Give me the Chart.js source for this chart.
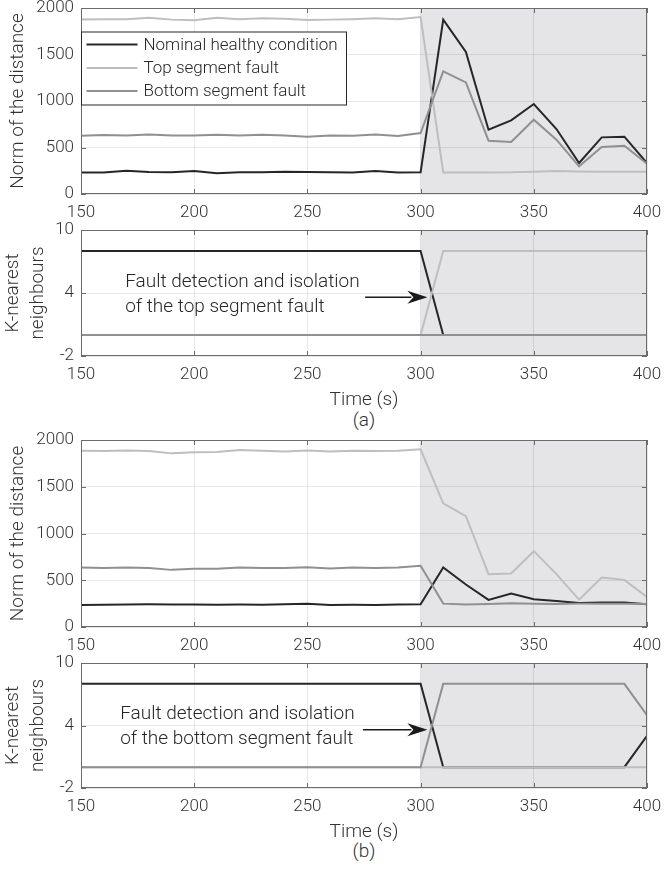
<!DOCTYPE html>
<html>
<head>
<meta charset="utf-8">
<script src="https://cdn.jsdelivr.net/npm/chart.js@4.4.1/dist/chart.umd.min.js"></script>
<style>
html,body{margin:0;padding:0;background:#fff;}
body{position:relative;width:664px;height:872px;overflow:hidden;}
canvas{position:absolute;left:0;}
.cap{position:absolute;left:0;width:728px;text-align:center;font-family:Roboto,"DejaVu Sans",sans-serif;font-weight:300;font-size:19px;color:#333;line-height:24px;}
</style>
</head>
<body>
<div class="cap" style="top:408px;">(a)</div>
<div class="cap" style="top:839px;">(b)</div>
<script>
// ---------- data ----------
const timeS = [150,160,170,180,190,200,210,220,230,240,250,260,270,280,290,300,310,320,330,340,350,360,370,380,390,400];
const xTicks = [150,200,250,300,350,400];
const normTicks = [0,500,1000,1500,2000];
const knnTicks = [-2,4,10];
const seriesNames = ['Nominal healthy condition','Top segment fault','Bottom segment fault'];
const faultStart = 300;

// (a) top segment fault – norm of the distance
const normNominalA = [232,230,250,236,233,246,222,235,233,238,236,233,232,246,232,233,1874,1527,691,792,968,699,333,609,616,333];
const normTopA     = [1875,1880,1878,1895,1875,1868,1895,1880,1890,1885,1872,1875,1880,1890,1878,1903,232,232,232,233,240,246,242,240,238,240];
const normBottomA  = [627,635,630,640,628,628,636,630,636,630,616,628,627,640,625,656,1318,1200,573,559,799,584,297,505,519,326];
// (a) k-nearest neighbours
const knnNominalA = [8,8,8,8,8,8,8,8,8,8,8,8,8,8,8,8,0,0,0,0,0,0,0,0,0,0];
const knnTopA     = [0,0,0,0,0,0,0,0,0,0,0,0,0,0,0,0,8,8,8,8,8,8,8,8,8,8];
const knnBottomA  = [0,0,0,0,0,0,0,0,0,0,0,0,0,0,0,0,0,0,0,0,0,0,0,0,0,0];

// (b) bottom segment fault – norm of the distance
const normNominalB = [236,238,240,242,240,240,238,240,238,242,248,236,238,236,240,243,636,454,290,358,297,279,257,261,261,243];
const normTopB     = [1885,1882,1888,1882,1857,1870,1872,1892,1885,1878,1888,1878,1885,1882,1885,1900,1322,1186,565,572,811,565,293,529,504,322];
const normBottomB  = [636,632,636,632,611,622,624,636,630,632,640,626,636,632,636,654,250,240,245,254,248,245,250,250,250,245];
// (b) k-nearest neighbours
const knnNominalB = [8,8,8,8,8,8,8,8,8,8,8,8,8,8,8,8,0,0,0,0,0,0,0,0,0,3];
const knnTopB     = [0,0,0,0,0,0,0,0,0,0,0,0,0,0,0,0,0,0,0,0,0,0,0,0,0,0];
const knnBottomB  = [0,0,0,0,0,0,0,0,0,0,0,0,0,0,0,0,8,8,8,8,8,8,8,8,8,5];

// ---------- styles ----------
const FONT = 'Roboto, "DejaVu Sans", sans-serif';
const TXT = '#333333';
const seriesColors = ['#262626', '#bebebe', '#909090'];
const seriesWidths = [2, 2, 2];
const AXIS = '#6b6b6b';
const GRID = 'rgba(0,0,0,0.09)';
const SHADE = '#e5e5e8';

const decoPlugin = {
  id: 'deco',
  beforeDraw(chart, args, o) {
    const {ctx, chartArea: a, scales: {x}} = chart;
    const x0 = x.getPixelForValue(o.shadeFrom);
    ctx.save();
    ctx.fillStyle = SHADE;
    ctx.fillRect(x0, a.top, a.right - x0, a.bottom - a.top);
    ctx.restore();
  },
  afterDatasetsDraw(chart, args, o) {
    const {ctx, chartArea: a, scales: {x, y}} = chart;
    ctx.save();
    // box + inward ticks
    ctx.strokeStyle = AXIS;
    ctx.lineWidth = 1;
    ctx.strokeRect(a.left + 0.5, a.top + 0.5, a.right - a.left - 1, a.bottom - a.top - 1);
    const tl = 5;
    ctx.beginPath();
    x.ticks.forEach(t => {
      const px = Math.round(x.getPixelForValue(t.value)) + 0.5;
      ctx.moveTo(px, a.bottom); ctx.lineTo(px, a.bottom - tl);
      ctx.moveTo(px, a.top); ctx.lineTo(px, a.top + tl);
    });
    y.ticks.forEach(t => {
      const py = Math.round(y.getPixelForValue(t.value)) + 0.5;
      ctx.moveTo(a.left, py); ctx.lineTo(a.left + tl, py);
      ctx.moveTo(a.right, py); ctx.lineTo(a.right - tl, py);
    });
    ctx.stroke();

    // legend
    if (o.legend) {
      const L = o.legend;
      const bx = a.left + 0.5, by = a.top + L.top + 0.5;
      ctx.fillStyle = '#ffffff';
      ctx.fillRect(bx, by, L.width, L.height);
      ctx.strokeStyle = '#262626';
      ctx.lineWidth = 1;
      ctx.strokeRect(bx, by, L.width, L.height);
      ctx.font = '300 17px ' + FONT;
      ctx.textBaseline = 'middle';
      ctx.textAlign = 'left';
      chart.data.datasets.forEach((ds, i) => {
        const ly = by + L.rows[i];
        ctx.strokeStyle = ds.borderColor;
        ctx.lineWidth = ds.borderWidth;
        ctx.beginPath();
        ctx.moveTo(bx + L.lineFrom, ly); ctx.lineTo(bx + L.lineTo, ly);
        ctx.stroke();
        ctx.fillStyle = '#262626';
        ctx.fillText(ds.label, bx + L.textX, ly + 1);
      });
    }

    // annotation
    if (o.note) {
      const N = o.note;
      ctx.font = '300 19px ' + FONT;
      ctx.fillStyle = '#262626';
      ctx.textBaseline = 'middle';
      ctx.textAlign = 'left';
      N.lines.forEach((s, i) => {
        ctx.fillText(s, x.getPixelForValue(N.textX), y.getPixelForValue(N.textY[i]));
      });
      const x1 = x.getPixelForValue(N.from[0]), y1 = y.getPixelForValue(N.from[1]);
      const x2 = x.getPixelForValue(N.to[0]),   y2 = y.getPixelForValue(N.to[1]);
      const head = 20, hw = 6.5;
      ctx.strokeStyle = '#1a1a1a';
      ctx.fillStyle = '#1a1a1a';
      ctx.lineWidth = 1.5;
      ctx.beginPath();
      ctx.moveTo(x1, y1); ctx.lineTo(x2 - head + 4, y2);
      ctx.stroke();
      ctx.beginPath();
      ctx.moveTo(x2, y2);
      ctx.lineTo(x2 - head, y2 - hw);
      ctx.lineTo(x2 - head + 6, y2);
      ctx.lineTo(x2 - head, y2 + hw);
      ctx.closePath();
      ctx.fill();
    }
    ctx.restore();
  }
};

function makeCanvas(top, h) {
  const c = document.createElement('canvas');
  c.width = 664; c.height = h;
  c.style.top = top + 'px';
  c.style.width = '664px'; c.style.height = h + 'px';
  document.body.appendChild(c);
  return c;
}

function makePanel(cfg) {
  const padTop = 30;
  const canvas = makeCanvas(cfg.areaTop - padTop, padTop + cfg.areaH + cfg.xAxisH);
  const n = cfg.series.length;
  const datasets = cfg.series.map((vals, i) => ({
    label: seriesNames[i],
    data: timeS.map((t, k) => ({x: t, y: vals[k]})),
    borderColor: seriesColors[i],
    backgroundColor: seriesColors[i],
    borderWidth: seriesWidths[i],
    pointRadius: 0,
    tension: 0,
    fill: false,
    order: n - 1 - i   // later series drawn on top, as in the original plot
  }));
  const tickFont = {family: FONT, size: 17, weight: '300', lineHeight: 1.2};
  const titleFont = {family: FONT, size: 19, weight: '300', lineHeight: 1.3};
  return new Chart(canvas, {
    type: 'line',
    data: {datasets},
    plugins: [decoPlugin],
    options: {
      responsive: false,
      animation: false,
      events: [],
      layout: {padding: {left: 0, right: 17, top: padTop, bottom: 0}},
      plugins: {
        legend: {display: false},
        tooltip: {enabled: false},
        deco: {shadeFrom: faultStart, legend: cfg.legend || null, note: cfg.note || null}
      },
      scales: {
        x: {
          type: 'linear',
          min: xTicks[0], max: xTicks[xTicks.length - 1],
          afterBuildTicks: s => { s.ticks = xTicks.map(v => ({value: v})); },
          afterFit: s => { s.height = cfg.xAxisH; s.paddingLeft = 0; s.paddingRight = 0; },
          grid: {color: GRID, drawTicks: false, lineWidth: 1},
          border: {display: false},
          ticks: {font: tickFont, color: TXT, padding: 9, maxRotation: 0, autoSkip: false, callback: v => String(v)},
          title: cfg.xTitle ? {display: true, text: cfg.xTitle, font: titleFont, color: TXT, padding: {top: 0, bottom: 3}} : {display: false}
        },
        y: {
          type: 'linear',
          min: cfg.yTicks[0], max: cfg.yTicks[cfg.yTicks.length - 1],
          afterBuildTicks: s => { s.ticks = cfg.yTicks.map(v => ({value: v})); },
          afterFit: s => { s.width = 81; s.paddingTop = 0; s.paddingBottom = 0; },
          grid: {color: GRID, drawTicks: false, lineWidth: 1},
          border: {display: false},
          ticks: {font: tickFont, color: TXT, padding: 7, autoSkip: false, callback: v => String(v)},
          title: {display: true, text: cfg.yTitle, font: titleFont, color: TXT, padding: {top: cfg.yTitlePad, bottom: 0}}
        }
      }
    }
  });
}

const legendBox = {top: 23.5, width: 265, height: 73, rows: [12.5, 36, 59], lineFrom: 5, lineTo: 56, textX: 62};

makePanel({
  areaTop: 8, areaH: 186, xAxisH: 36,
  series: [normNominalA, normTopA, normBottomA],
  yTicks: normTicks, yTitle: 'Norm of the distance', yTitlePad: 6,
  legend: legendBox
});
makePanel({
  areaTop: 230, areaH: 126, xAxisH: 60, xTitle: 'Time (s)',
  series: [knnNominalA, knnTopA, knnBottomA],
  yTicks: knnTicks, yTitle: ['K-nearest', 'neighbours'], yTitlePad: 1,
  note: {lines: ['Fault detection and isolation', 'of the top segment fault'], textX: 169.5, textY: [5.05, 2.65], from: [275.5, 3.6], to: [303, 3.6]}
});
makePanel({
  areaTop: 440, areaH: 187, xAxisH: 36,
  series: [normNominalB, normTopB, normBottomB],
  yTicks: normTicks, yTitle: 'Norm of the distance', yTitlePad: 6
});
makePanel({
  areaTop: 663, areaH: 125, xAxisH: 60, xTitle: 'Time (s)',
  series: [knnNominalB, knnTopB, knnBottomB],
  yTicks: knnTicks, yTitle: ['K-nearest', 'neighbours'], yTitlePad: 1,
  note: {lines: ['Fault detection and isolation', 'of the bottom segment fault'], textX: 167.3, textY: [5.1, 2.7], from: [274.5, 3.6], to: [303, 3.6]}
});
</script>
</body>
</html>
